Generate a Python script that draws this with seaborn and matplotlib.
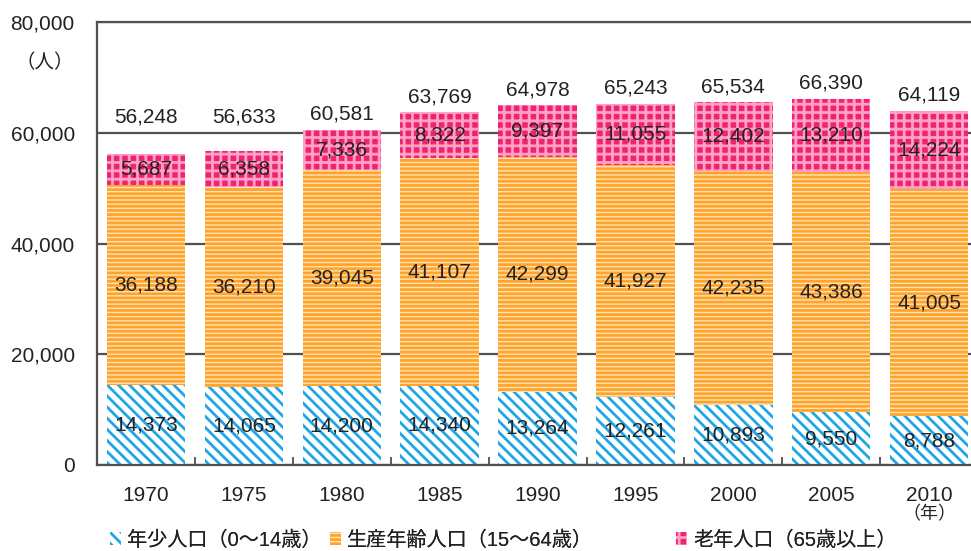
import numpy as np
import pandas as pd
import matplotlib
matplotlib.use("Agg")
import matplotlib.pyplot as plt
import matplotlib.transforms as mtransforms
from matplotlib.patches import Patch
from matplotlib.ticker import FixedLocator, FuncFormatter
import seaborn as sns

years = ["1970", "1975", "1980", "1985", "1990", "1995", "2000", "2005", "2010"]
young = [14373, 14065, 14200, 14340, 13264, 12261, 10893, 9550, 8788]
working = [36188, 36210, 39045, 41107, 42299, 41927, 42235, 43386, 41005]
elderly = [5687, 6358, 7336, 8322, 9397, 11055, 12402, 13210, 14224]
totals = [56248, 56633, 60581, 63769, 64978, 65243, 65534, 66390, 64119]

labels = ["年少人口（0～14歳）", "生産年齢人口（15～64歳）", "老年人口（65歳以上）"]

sns.set_theme(style="white")
plt.rcParams["font.family"] = ["Liberation Sans", "Noto Sans CJK JP", "DejaVu Sans"]
plt.rcParams["hatch.linewidth"] = 2.0

TEXT = "#222222"
LINE = "#505050"

# (face, hatch colour, hatch)
styles = [
    ("#FFFFFF", "#1EA6E6", "\\\\\\"),
    ("#FFE2B8", "#FFA42A", "----"),
    ("#EE2470", "#FFA0C4", "++"),
]

df = pd.DataFrame({"year": years, "young": young, "working": working, "elderly": elderly})

fig = plt.figure(figsize=(9.71, 5.51), dpi=100)
ax = fig.add_axes([97 / 971, 86 / 551, 1 - 97 / 971, 443 / 551])

# stacked bars, drawn layer by layer
bottoms = np.zeros(len(years))
layers = ["young", "working", "elderly"]
for col, (face, hcol, hatch) in zip(layers, styles):
    sns.barplot(data=df, x="year", y=col, bottom=bottoms, color=face,
                saturation=1, width=0.8, ax=ax, zorder=2)
    for p in ax.containers[-1]:
        p.set_facecolor(face)
        p.set_edgecolor(hcol)
        p.set_hatch(hatch)
        p.set_linewidth(0)
    # segment labels
    mids = bottoms + df[col].values / 2
    for i, v in enumerate(df[col].values):
        ax.text(i, mids[i], f"{v:,}", ha="center", va="center",
                fontsize=15, color=TEXT, zorder=4)
    bottoms = bottoms + df[col].values

# totals above bars, lifted clear of the 60,000 line
for i, t in enumerate(totals):
    ax.annotate(f"{t:,}", xy=(i, max(bottoms[i], 60000)), xytext=(0, 11),
                textcoords="offset points", ha="center", va="center",
                fontsize=15, color=TEXT)

ax.set_ylim(0, 80000)
ax.set_xlim(-0.5, (971 - 97) / 97.9 - 0.5)
ax.yaxis.set_major_locator(FixedLocator([0, 20000, 40000, 60000, 80000]))
ax.yaxis.set_major_formatter(FuncFormatter(lambda v, _: f"{int(v):,}"))
ax.yaxis.grid(True, color=LINE, linewidth=1.6, zorder=1)
ax.set_axisbelow(True)
ax.set_xlabel("")
ax.set_ylabel("")

ax.tick_params(axis="y", length=0, pad=16, labelsize=15, labelcolor=TEXT)
ax.tick_params(axis="x", which="major", length=0, pad=15, labelsize=15, labelcolor=TEXT)
ax.xaxis.set_minor_locator(FixedLocator(np.arange(0.5, len(years) - 0.5, 1.0)))
ax.tick_params(axis="x", which="minor", bottom=True, direction="in",
               length=6, width=1.3, color=LINE)

for side in ["left", "bottom", "top"]:
    ax.spines[side].set_color(LINE)
    ax.spines[side].set_linewidth(1.6)
ax.spines["right"].set_visible(False)

ax.text(-0.026, 72600, "（人）", transform=mtransforms.blended_transform_factory(ax.transAxes, ax.transData),
        ha="right", va="center", fontsize=14, color=TEXT)
ax.text(8, -0.113, "（年）", transform=mtransforms.blended_transform_factory(ax.transData, ax.transAxes),
        ha="center", va="center", fontsize=13, color=TEXT)

# legend entries sit at fixed spots along the bottom
for (face, hcol, hatch), lab, x0 in zip(styles, labels, [110, 330, 676]):
    leg = fig.legend([Patch(facecolor=face, edgecolor=hcol, hatch=hatch, linewidth=0)], [lab],
                     loc="center left", bbox_to_anchor=(x0 / 971, 11 / 551), frameon=False,
                     fontsize=14.5, handlelength=0.55, handleheight=0.55, handletextpad=0.3,
                     labelcolor=TEXT, borderaxespad=0, borderpad=0)
    fig.add_artist(leg)

fig.savefig("out.png", dpi=100)
